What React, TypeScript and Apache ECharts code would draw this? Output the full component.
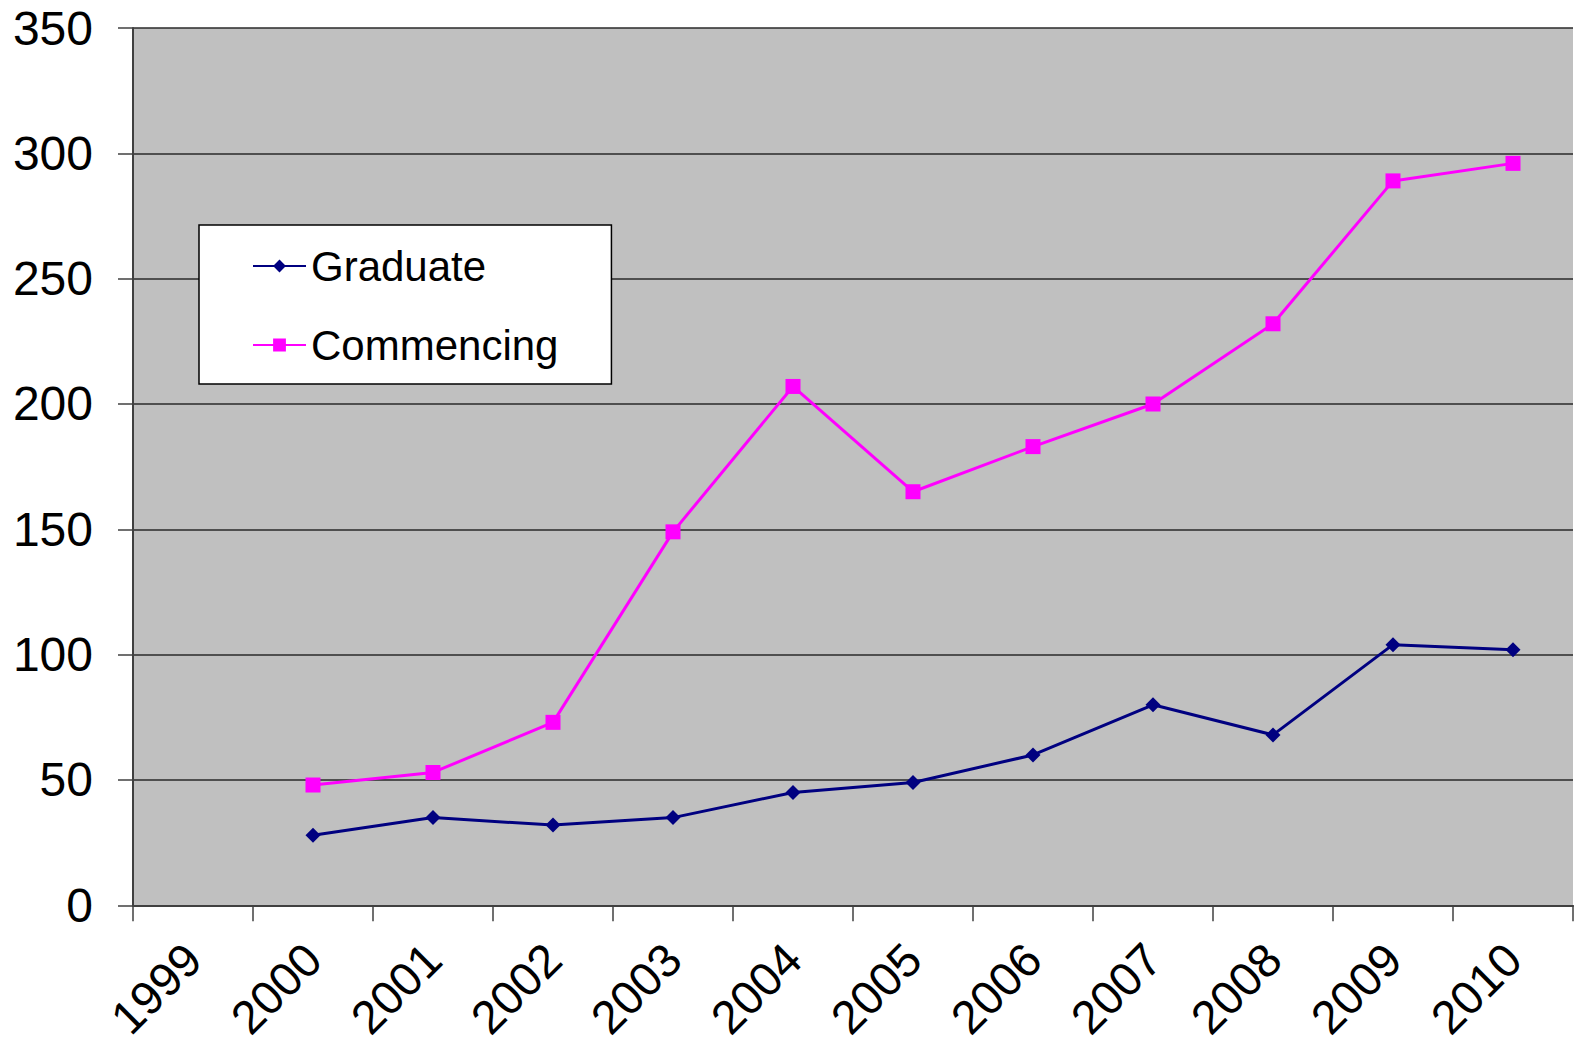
import React, { useEffect, useRef } from "react";
import * as echarts from "echarts";

const years = ["1999", "2000", "2001", "2002", "2003", "2004", "2005", "2006", "2007", "2008", "2009", "2010"];
const graduate = [null, 28, 35, 32, 35, 45, 49, 60, 80, 68, 104, 102];
const commencing = [null, 48, 53, 73, 149, 207, 165, 183, 200, 232, 289, 296];
const yTicks = { min: 0, max: 350, interval: 50 };

const FONT = "'Liberation Sans', Arial, sans-serif";

export default function App() {
  const ref = useRef<HTMLDivElement>(null);
  useEffect(() => {
    if (!ref.current) return;
    const chart = echarts.init(ref.current, null, { renderer: "svg" });
    chart.setOption({
      animation: false,
      backgroundColor: "#ffffff",
      grid: {
        left: 133,
        right: 1,
        top: 28,
        bottom: 138,
        show: true,
        backgroundColor: "#C0C0C0",
        borderWidth: 0,
      },
      legend: {
        orient: "vertical",
        left: 199,
        top: 225,
        backgroundColor: "#ffffff",
        borderColor: "#000000",
        borderWidth: 1.5,
        padding: [20, 53, 18, 53],
        itemGap: 37,
        itemWidth: 53,
        itemHeight: 16,
        textStyle: { fontFamily: FONT, fontSize: 42, color: "#000", lineHeight: 41 },
        data: ["Graduate", "Commencing"],
      },
      xAxis: {
        type: "category",
        data: years,
        boundaryGap: true,
        axisLine: { show: true, lineStyle: { color: "#404040", width: 2 } },
        axisTick: { show: true, length: 16, lineStyle: { color: "#404040", width: 1.5 } },
        axisLabel: {
          interval: 0,
          rotate: 45,
          margin: 46,
          fontFamily: FONT,
          fontSize: 47,
          color: "#000",
        },
        splitLine: { show: false },
      },
      yAxis: {
        type: "value",
        min: yTicks.min,
        max: yTicks.max,
        interval: yTicks.interval,
        axisLine: { show: true, lineStyle: { color: "#404040", width: 2 } },
        axisTick: { show: true, length: 15, lineStyle: { color: "#404040", width: 1.5 } },
        axisLabel: { margin: 40, fontFamily: FONT, fontSize: 48, color: "#000" },
        splitLine: { show: true, lineStyle: { color: "#2a2a2a", width: 1.5 } },
      },
      series: [
        {
          name: "Graduate",
          type: "line",
          data: graduate,
          symbol: "diamond",
          symbolSize: 15,
          lineStyle: { color: "#000080", width: 3 },
          itemStyle: { color: "#000080" },
        },
        {
          name: "Commencing",
          type: "line",
          data: commencing,
          symbol: "rect",
          symbolSize: 15,
          lineStyle: { color: "#FF00FF", width: 3 },
          itemStyle: { color: "#FF00FF" },
        },
      ],
    });
    return () => chart.dispose();
  }, []);
  return (
    <div
      ref={ref}
      style={{ position: "absolute", left: 0, top: 0, width: 1574, height: 1044 }}
    />
  );
}
